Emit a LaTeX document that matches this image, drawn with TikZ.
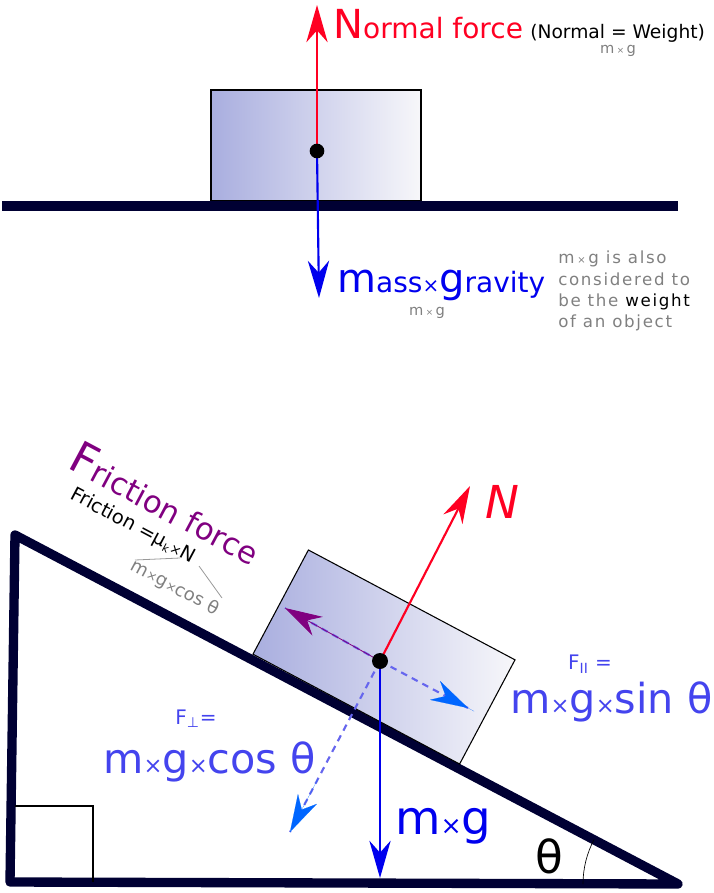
\documentclass[tikz,border=0pt]{standalone}
\usepackage{fontspec}
\setmainfont{DejaVu Sans}
\usetikzlibrary{arrows.meta}
\definecolor{navy}{HTML}{000033}
\definecolor{fred}{HTML}{FF0022}
\definecolor{fblue}{HTML}{0000EE}
\definecolor{lblue}{HTML}{4444EE}
\definecolor{dblue}{HTML}{6666EE}
\definecolor{purp}{HTML}{800080}
\definecolor{skyb}{HTML}{0066FF}
\definecolor{shadeL}{HTML}{A9AEDF}
\definecolor{shadeR}{HTML}{F7F7FA}
\definecolor{lgray}{HTML}{999999}
\tikzset{
 tip/.style={-{Stealth[length=28pt,width=16pt,inset=9pt]}},
 arr/.style={line width=1.6pt,tip},
 dsh/.style={line width=1.6pt,dash pattern=on 5pt off 4pt,dblue},
 gtxt/.style={text=gray},
 lbl/.style={inner sep=0pt,anchor=base west}
}
\begin{document}
\begin{tikzpicture}[x=0.75pt,y=-0.75pt]
\useasboundingbox (0,0) rectangle (714,893);
% top scene
\shade[left color=shadeL,right color=shadeR] (211,90) rectangle (421,201);
\draw[line width=0.8pt] (211,90) rectangle (421,201);
\draw[navy,line width=8pt] (2,206) -- (678,206);
\coordinate (d1) at (317,151);
\coordinate (n1) at (317,5);
\coordinate (g1) at (319,298);
\draw[arr,fred] (d1) -- (n1);
\draw[arr,fblue] (d1) -- (g1);
\node[circle,fill=black,inner sep=0pt,minimum size=11pt] (dot1) at (d1) {};
\node[lbl,text=fred] (tn) at (333,38) {\fontsize{30}{30}\selectfont N\fontsize{21}{21}\selectfont ormal force};
\node[lbl] (tnw) at (530,38) {\fontsize{14}{14}\selectfont (Normal = Weight)};
\node[gtxt,font=\fontsize{11}{11}\selectfont] (tnm) at (618,51) {m\,\scalebox{0.6}{×}\,g};
\node[lbl,text=fblue] (tm) at (337,292) {\fontsize{30}{30}\selectfont m\fontsize{21}{21}\selectfont ass\fontsize{15}{15}\selectfont ×\fontsize{30}{30}\selectfont g\fontsize{21}{21}\selectfont ravity};
\node[gtxt,font=\fontsize{11}{11}\selectfont] (tmm) at (427,313) {m\,\scalebox{0.6}{×}\,g};
\node[gtxt,anchor=north west,align=left,font=\fontsize{12.5}{16}\selectfont\addfontfeature{LetterSpace=10},inner sep=0pt] (tw) at (558,251)
 {m\,\scalebox{0.6}{×}\,g is also\\considered to\\be the \textcolor{black}{weight}\\of an object};
% incline
\draw[navy,line width=7pt,line join=round] (15,535) -- (678,884) -- (10,882) -- cycle;
\draw[line width=0.8pt] (15,806) -- (93,806) -- (93,882);
\draw[line width=0.5pt] (678,884) ++(180:95) arc[start angle=180,end angle=208,radius=95];
\node[font=\fontsize{34}{34}\selectfont] (th) at (549,856) {θ};
\begin{scope}[shift={(384,657)},rotate=-28]
\shade[left color=shadeL,right color=shadeR] (-117,-59) rectangle (117,59);
\draw[line width=0.8pt] (-117,-59) rectangle (117,59);
\end{scope}
\coordinate (d2) at (380,661);
\coordinate (n2) at (470,486);
\coordinate (f2) at (285,608);
\coordinate (p2) at (468,708);
\coordinate (q2) at (290,832);
\coordinate (g2) at (380,878);
\draw[dsh] (d2) -- (f2);
\draw[arr,purp,line width=0.6pt] (d2) -- (f2);
\draw[dsh] (d2) -- (p2);
\draw[dsh] (d2) -- (q2);
\draw[skyb,tip,line width=0.1pt,shorten <=80pt] (d2) -- (p2);
\draw[skyb,tip,line width=0.1pt,shorten <=100pt] (d2) -- (q2);
\draw[arr,fred] (d2) -- (n2);
\draw[arr,fblue] (d2) -- (g2);
\node[circle,fill=black,inner sep=0pt,minimum size=12pt] (dot2) at (d2) {};
\node[text=fred,font=\fontsize{34}{34}\selectfont\itshape] (tN) at (502,502) {N};
\node[text=lblue,font=\fontsize{15}{15}\selectfont] (tpar) at (590,664) {F\textsubscript{II} =};
\node[lbl,text=lblue] (tpar2) at (510,713) {\fontsize{31}{31}\selectfont m\fontsize{17}{17}\selectfont ×\fontsize{31}{31}\selectfont g\fontsize{17}{17}\selectfont ×\fontsize{31}{31}\selectfont sin θ};
\node[text=lblue,font=\fontsize{15}{15}\selectfont] (tperp) at (196,719) {F\textsubscript{⊥}=};
\node[lbl,text=lblue] (tperp2) at (103,773) {\fontsize{31}{31}\selectfont m\fontsize{17}{17}\selectfont ×\fontsize{31}{31}\selectfont g\fontsize{17}{17}\selectfont ×\fontsize{31}{31}\selectfont cos θ};
\node[lbl,text=fblue] (tmg) at (395,834) {\fontsize{35}{35}\selectfont m\fontsize{19}{19}\selectfont ×\fontsize{35}{35}\selectfont g};
\node[text=purp,rotate=-28] (tf) at (166,503) {\fontsize{33}{33}\selectfont F\fontsize{23}{23}\selectfont riction force};
\node[rotate=-28,font=\fontsize{14.5}{14.5}\selectfont] (tfe) at (133,526) {Friction =μ\textsubscript{\scalebox{0.8}{k}}\scalebox{0.7}{×}N};
\node[gtxt,rotate=-28,font=\fontsize{13.5}{13.5}\selectfont] (tfm) at (175,588) {m\scalebox{0.7}{×}g\scalebox{0.7}{×}cos θ};
\coordinate (l1) at (135,560);
\coordinate (l2) at (180,558);
\coordinate (l3) at (199,566);
\coordinate (l4) at (222,598);
\draw[lgray,line width=0.6pt] (l1) -- (l2);
\draw[lgray,line width=0.6pt] (l3) -- (l4);
\end{tikzpicture}
\end{document}
